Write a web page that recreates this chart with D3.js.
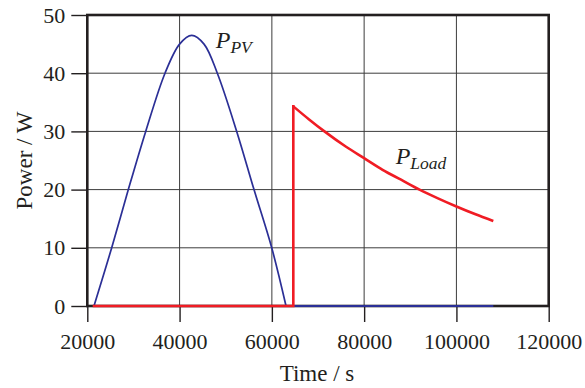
<!DOCTYPE html>
<html>
<head>
<meta charset="utf-8">
<script src="https://cdn.jsdelivr.net/npm/d3@7"></script>
<style>
  html, body { margin: 0; padding: 0; background: #fff; }
  svg { display: block; }
  svg text { font-family: "Liberation Serif", "Times New Roman", serif; fill: #231f20; }
</style>
</head>
<body>
<svg id="chart" width="585" height="388"></svg>
<script>
// Time axis (s) and power axis (W)
const xTicks = [20000, 40000, 60000, 80000, 100000, 120000];
const yTicks = [0, 10, 20, 30, 40, 50];

// PV generation: daylight hump, then zero until the end of the run
const pvTime  = [21450, 25290, 28890, 32660, 36840, 40000, 42630, 45300, 48180, 52380, 56130, 59970, 63070];
const pvPower = [0, 10, 20, 30, 40, 45.0, 46.5, 45.0, 40, 30, 20, 10, 0];
const pvTailTime  = [63070, 108000];
const pvTailPower = [0, 0];

// Load power: off until switch-on at 64650 s ...
const loadOffTime  = [21450, 64650, 64650];
const loadOffPower = [0, 0, 34.3];
// ... then a decaying discharge
const loadTime  = [64650, 68000, 71400, 76000, 80000, 84000, 88000, 92000, 96000, 100000, 104000, 108000];
const loadPower = [34.3, 32.1, 30, 27.4, 25.4, 23.4, 21.7, 20, 18.5, 17.1, 15.8, 14.6];

// Curve labels, placed in data coordinates
const labels = [
  { main: "P", sub: "PV",   t: 47830, p: 44.25 },
  { main: "P", sub: "Load", t: 86840, p: 24.4 }
];

const svg = d3.select("#chart");
const mLeft = 87.3, mRight = 548.7, mTop = 15, mBottom = 306;
const serif = "Liberation Serif";

const x = d3.scaleLinear().domain([20000, 120000]).range([mLeft, mRight]);
const y = d3.scaleLinear().domain([0, 50]).range([mBottom, mTop]);

// grid
const grid = svg.append("g").attr("stroke", "#3c3c3c").attr("stroke-width", 1);
grid.selectAll("line.v").data(xTicks).join("line").attr("class", "v")
  .attr("x1", d => x(d)).attr("x2", d => x(d))
  .attr("y1", mTop).attr("y2", mBottom);
grid.selectAll("line.h").data(yTicks).join("line").attr("class", "h")
  .attr("x1", mLeft).attr("x2", mRight)
  .attr("y1", d => y(d)).attr("y2", d => y(d));

// frame
svg.append("rect")
  .attr("x", mLeft).attr("y", mTop)
  .attr("width", mRight - mLeft).attr("height", mBottom - mTop)
  .attr("fill", "none").attr("stroke", "#231f20").attr("stroke-width", 2.6);

// axes
const xAxis = d3.axisBottom(x).tickValues(xTicks).tickFormat(d3.format("d"))
  .tickSize(16).tickSizeOuter(0).tickPadding(11.4);
const yAxis = d3.axisLeft(y).tickValues(yTicks).tickFormat(d3.format("d"))
  .tickSize(16).tickSizeOuter(0).tickPadding(6);

const gx = svg.append("g").attr("transform", `translate(0,${mBottom})`).call(xAxis);
const gy = svg.append("g").attr("transform", `translate(${mLeft},0)`).call(yAxis);
[gx, gy].forEach(g => {
  g.attr("font-family", serif).attr("font-size", 22);
  g.select(".domain").remove();
  g.selectAll(".tick line").attr("stroke", "#231f20").attr("stroke-width", 1.4);
  g.selectAll(".tick text").attr("fill", "#231f20").attr("font-family", serif);
});

// axis titles
svg.append("text")
  .attr("x", (mLeft + mRight) / 2 - 1).attr("y", 381)
  .attr("text-anchor", "middle").attr("font-size", 23)
  .attr("font-family", serif)
  .text("Time / s");
svg.append("text")
  .attr("transform", `translate(31.7,${(mTop + mBottom) / 2}) rotate(-90)`)
  .attr("text-anchor", "middle").attr("font-size", 23)
  .attr("font-family", serif)
  .text("Power / W");

// series
const pvCurve = d3.line().x(d => x(d[0])).y(d => y(d[1])).curve(d3.curveCatmullRom.alpha(0.5));
const smooth = d3.line().x(d => x(d[0])).y(d => y(d[1])).curve(d3.curveMonotoneX);
const straight = d3.line().x(d => x(d[0])).y(d => y(d[1]));
const pairs = (ts, vs) => ts.map((t, i) => [t, vs[i]]);

const pvColor = "#2b2f96";
const loadColor = "#f01c24";

svg.append("path")
  .datum(pairs(pvTime, pvPower))
  .attr("d", pvCurve)
  .attr("fill", "none").attr("stroke", pvColor).attr("stroke-width", 1.7);
svg.append("path")
  .datum(pairs(pvTailTime, pvTailPower))
  .attr("d", straight)
  .attr("fill", "none").attr("stroke", pvColor).attr("stroke-width", 2.2);

svg.append("path")
  .datum(pairs(loadOffTime, loadOffPower))
  .attr("d", straight)
  .attr("fill", "none").attr("stroke", loadColor).attr("stroke-width", 2.6)
  .attr("stroke-linejoin", "miter").attr("stroke-linecap", "square");
svg.append("path")
  .datum(pairs(loadTime, loadPower))
  .attr("d", smooth)
  .attr("fill", "none").attr("stroke", loadColor).attr("stroke-width", 2.6);

// labels
labels.forEach(l => {
  const t = svg.append("text")
    .attr("x", x(l.t)).attr("y", y(l.p))
    .attr("font-family", serif)
    .attr("font-style", "italic").attr("font-size", 24);
  t.append("tspan").text(l.main);
  t.append("tspan").attr("dy", 5).attr("font-size", 17.5).text(l.sub);
});
</script>
</body>
</html>
